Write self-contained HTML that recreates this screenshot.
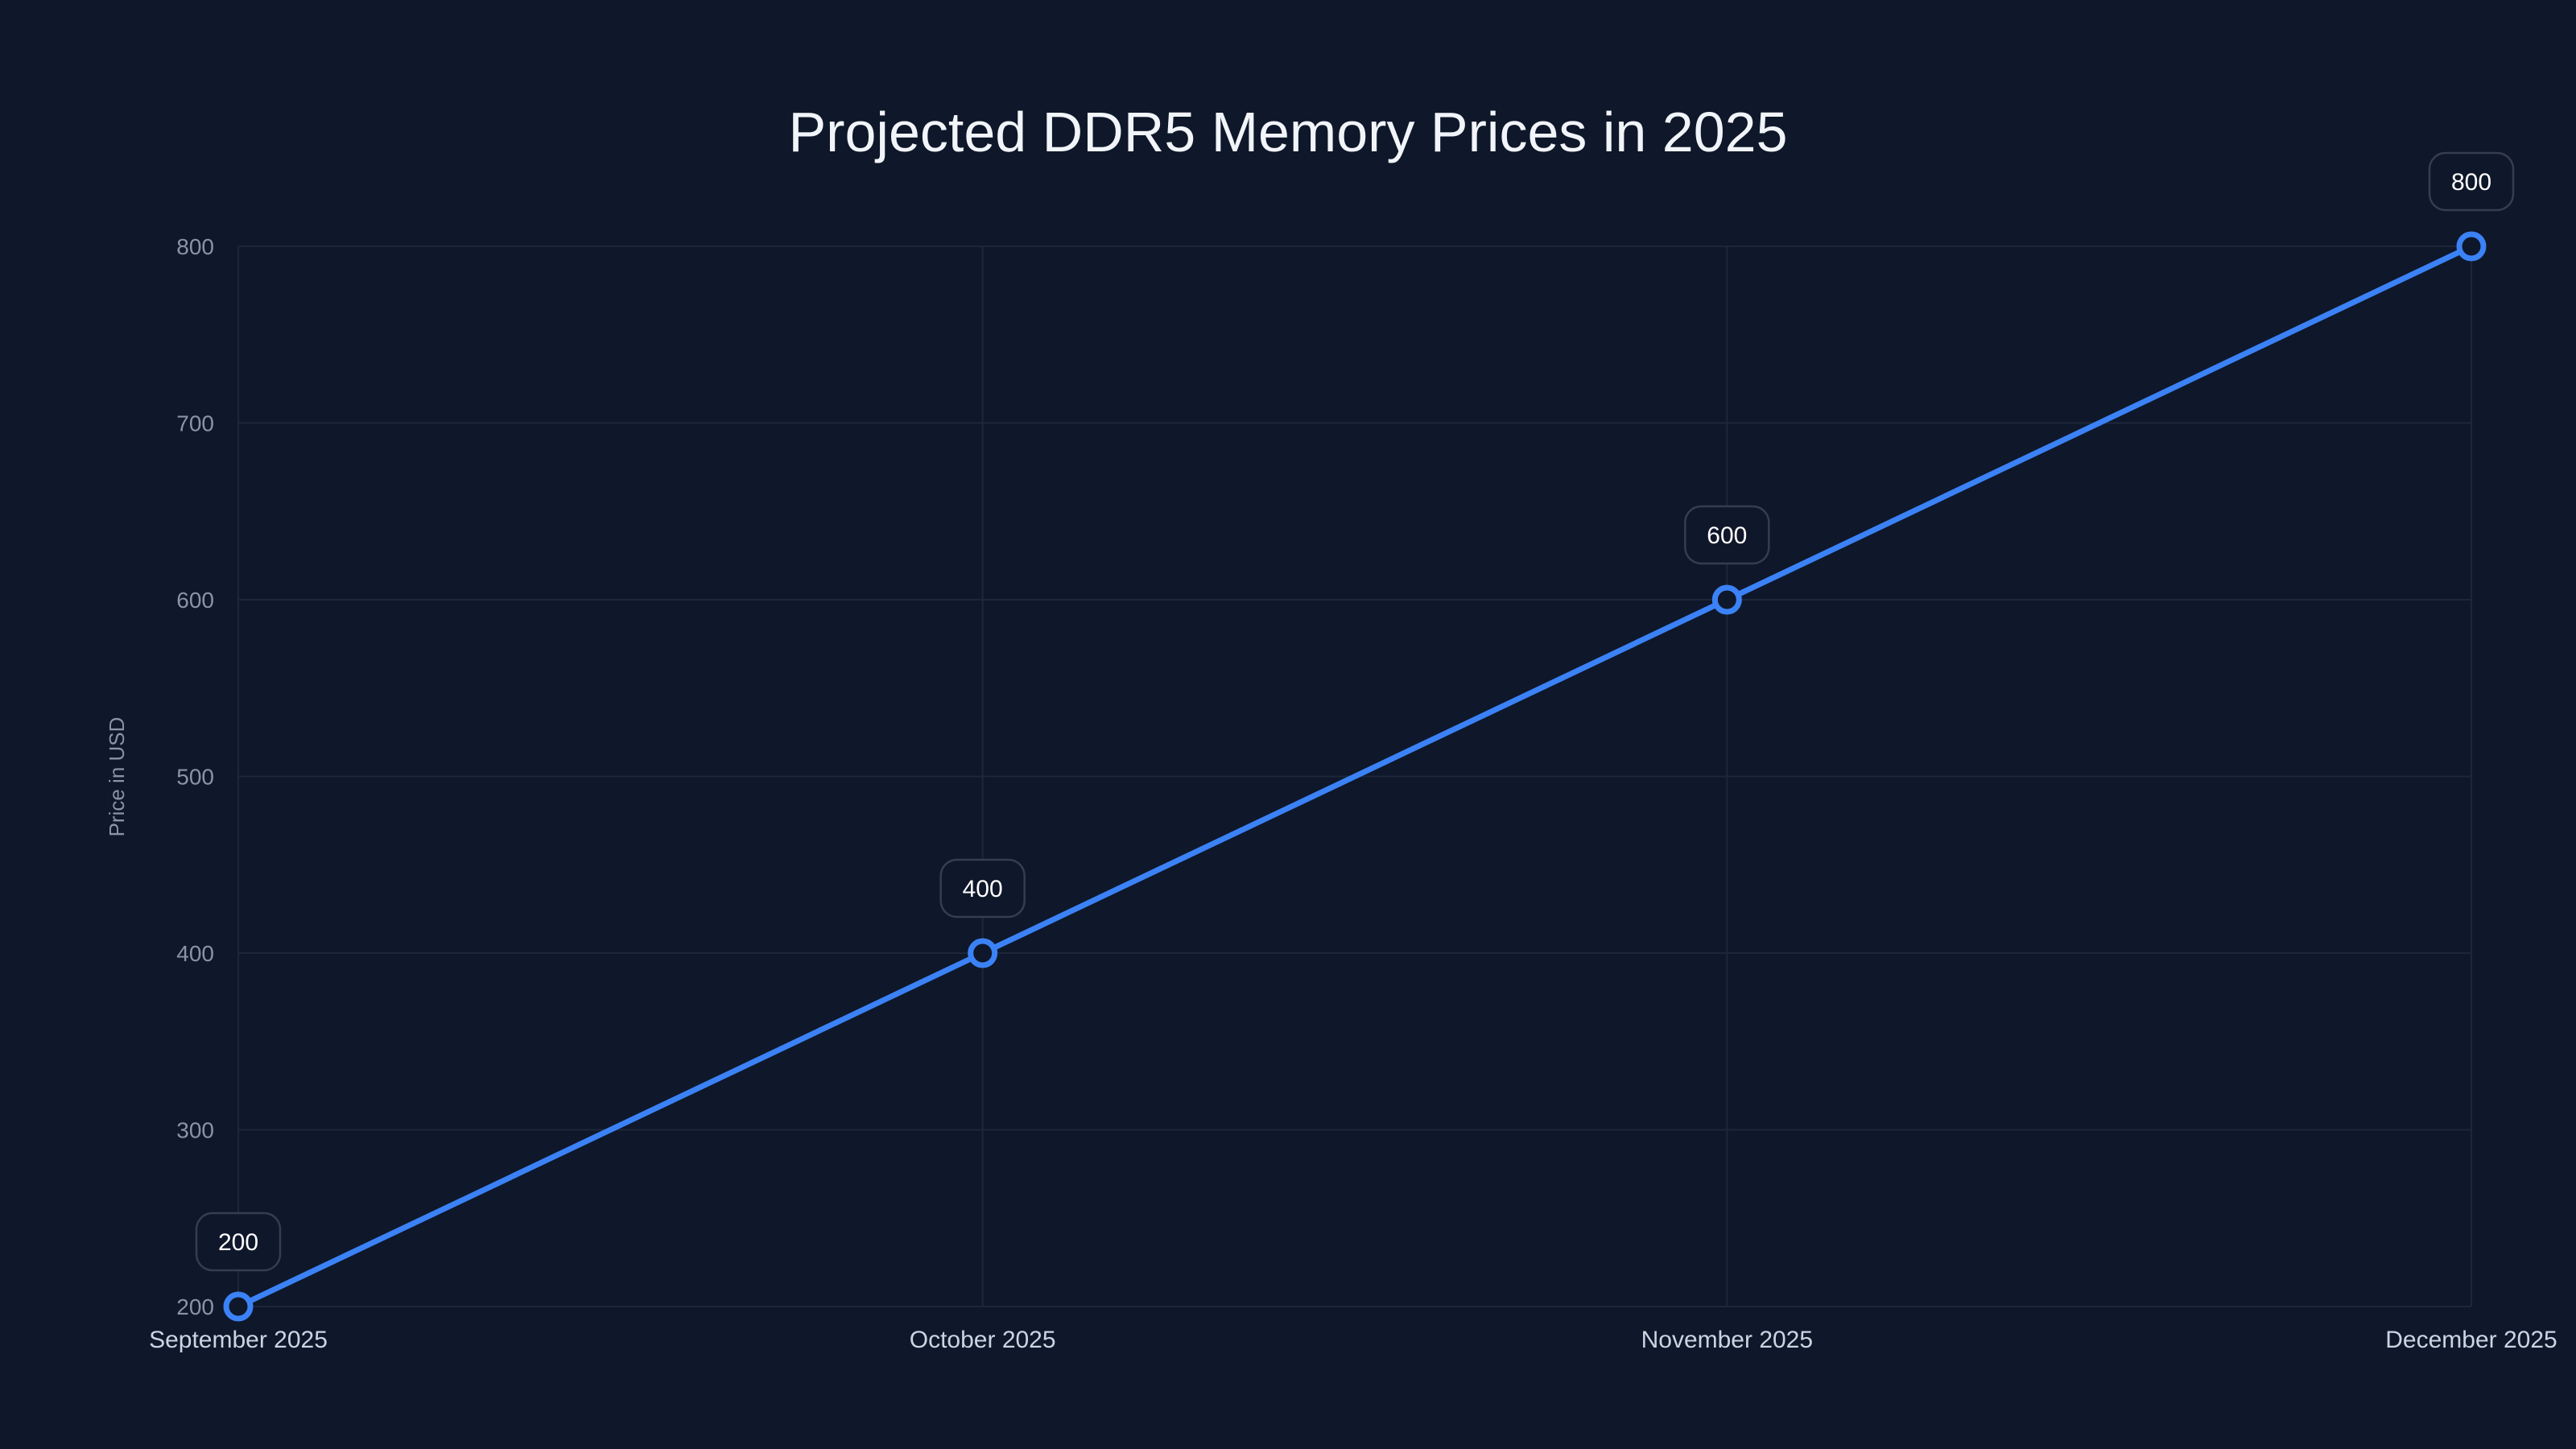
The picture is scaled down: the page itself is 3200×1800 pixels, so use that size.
<!DOCTYPE html>
<html><head><meta charset="utf-8"><style>
html,body{margin:0;padding:0;background:#0f172a;}
svg{display:block;font-family:"Liberation Sans",sans-serif;}
</style></head><body>
<svg id="chart" width="3200" height="1800" viewBox="0 0 3200 1800" xmlns="http://www.w3.org/2000/svg">
<rect width="3200" height="1800" fill="#0f172a"/>
<text x="1600" y="188" text-anchor="middle" font-size="70" fill="#f1f5f9">Projected DDR5 Memory Prices in 2025</text>
<text transform="translate(154,965) rotate(-90)" text-anchor="middle" font-size="26" fill="#8a94a6">Price in USD</text>
<g id="grid"></g><g id="axes"></g><g id="series"></g><g id="labels"></g>
</svg>
<script>
const categories = ["September 2025","October 2025","November 2025","December 2025"];
const prices = [200,400,600,800];
const yTicks = [200,300,400,500,600,700,800];
const NS="http://www.w3.org/2000/svg";
const X0=296,X1=3070,Y0=1623,Y1=306,YMIN=200,YMAX=800;
const xs=i=>X0+(X1-X0)*i/(categories.length-1);
const ys=v=>Y0-(v-YMIN)/(YMAX-YMIN)*(Y0-Y1);
function mk(tag,attrs,parent){const e=document.createElementNS(NS,tag);for(const k in attrs)e.setAttribute(k,attrs[k]);parent.appendChild(e);return e;}
const grid=document.getElementById('grid'),axes=document.getElementById('axes'),series=document.getElementById('series'),labels=document.getElementById('labels');
yTicks.forEach(t=>{
  const l=mk('line',{x1:X0,x2:X1,y1:ys(t),y2:ys(t),stroke:'#1e2739','stroke-width':2},grid);
  
  
  const tx=mk('text',{x:X0-30,y:ys(t)+10,'text-anchor':'end','font-size':28,fill:'#8a94a6'},axes);
  tx.textContent=t;
  
  
});
categories.forEach((c,i)=>{
  const l=mk('line',{x1:xs(i),x2:xs(i),y1:Y1,y2:Y0,stroke:'#1e2739','stroke-width':2},grid);
  
  
  const tx=mk('text',{x:xs(i),y:Y0+51,'text-anchor':'middle','font-size':30,fill:'#cbd5e1'},axes);
  tx.textContent=c;
  
  
});
const pts=prices.map((v,i)=>xs(i)+','+ys(v)).join(' ');
const pl=mk('polyline',{points:pts,fill:'none',stroke:'#3b82f6','stroke-width':7,'stroke-linejoin':'round'},series);


prices.forEach((v,i)=>{
  const c=mk('circle',{cx:xs(i),cy:ys(v),r:15,fill:'#0f172a',stroke:'#3b82f6','stroke-width':7},series);
  
  
  const g=mk('g',{},labels);
  
  
  mk('rect',{x:xs(i)-52,y:ys(v)-116,width:104,height:71,rx:20,fill:'#0f172a',stroke:'#353d4e','stroke-width':2.5},g);
  const t=mk('text',{x:xs(i),y:ys(v)-70,'text-anchor':'middle','font-size':30,fill:'#ffffff'},g);
  t.textContent=v;
});
</script>
</body></html>
